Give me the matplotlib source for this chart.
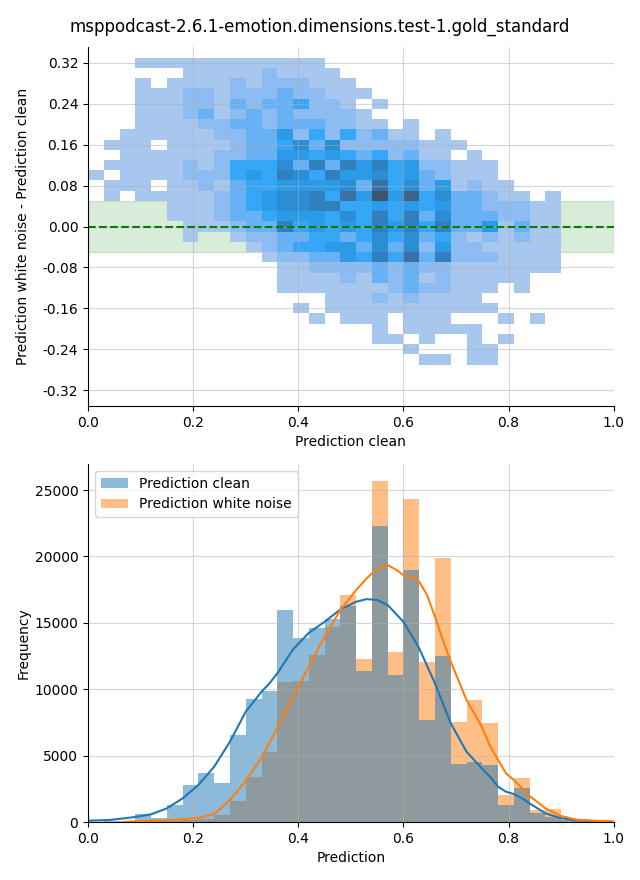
import numpy as np
import matplotlib
matplotlib.use("Agg")
import matplotlib.pyplot as plt
import seaborn as sns
from matplotlib.patches import Patch
from matplotlib.ticker import FixedLocator, FormatStrFormatter

title = "msppodcast-2.6.1-emotion.dimensions.test-1.gold_standard"

# ---- top: 2d histogram, prediction clean vs (white noise - clean) ----
# 30 x-bins (0 .. 0.9) and 30 y-bins (-0.27 .. 0.33)
x_edges = np.linspace(0.0, 0.9, 31)
y_edges = np.linspace(-0.27, 0.33, 31)
diff_ticks = [-0.32, -0.24, -0.16, -0.08, 0.0, 0.08, 0.16, 0.24, 0.32]

# shade, rows from top (y=0.33) to bottom (y=-0.27)
# '.' = empty cell, '1' lightest ... 'X' darkest
cell_rows = [
    "...111111111111...............",
    "......1111121111..............",
    "...1.111121222111.............",
    "...111221222322111............",
    "...11122132334221.1...........",
    "...111231232322221............",
    "...1111223323332211.1.........",
    "..1111112233524242311.1.......",
    ".111.1111233463622222111......",
    "..111111223355454342311.1.....",
    ".1111121244463737574522111....",
    "1.111122245476475564532111....",
    ".111.1121344555563846351211...",
    ".1.111112345667485X594633211.1",
    ".....1112345667744545453322211",
    ".....1112334555464747363332211",
    "......111233745454757473351311",
    "......1..122334434646342121211",
    "..........12344553636252211111",
    "...........1223354748372221111",
    "............112222323221111111",
    "............1111213231211111..",
    "............11111112322111.1..",
    "...............1112121111.....",
    ".............1.11111111111....",
    "..............1.111.111...1.1.",
    "..................1.11111.....",
    "..................11.1..1.1...",
    "....................1...11....",
    ".....................11.11....",
]
level_codes = ".123456789X"
level_share = [0, 2, 12, 22, 32, 42, 52, 63, 75, 87, 100]  # % of busiest cell

# ---- bottom: histograms of both predictions ----
hist_edges = np.linspace(0.0, 0.99, 34)
clean_counts = [30, 60, 100, 580, 330, 1280, 2790, 3690, 2940, 6550, 9260,
                9860, 15960, 13860, 14610, 15290, 16270, 11370, 22290, 11070,
                18980, 7680, 12500, 4370, 4520, 4290, 1280, 2560, 650, 400,
                120, 50, 0]
noise_counts = [0, 0, 10, 20, 40, 80, 130, 220, 530, 1580, 3390, 5270, 10540,
                10620, 12580, 14680, 17090, 12270, 25680, 12800, 24320, 12050,
                19880, 7530, 9190, 7460, 2030, 3310, 900, 950, 180, 80, 60]

# kde curves
kde_clean_x = [0.0, 0.04, 0.063, 0.09, 0.12, 0.15, 0.18, 0.21, 0.24, 0.27,
               0.30, 0.33, 0.345, 0.36, 0.39, 0.42, 0.45, 0.48, 0.51, 0.53,
               0.55, 0.57, 0.60, 0.63, 0.66, 0.69, 0.72, 0.75, 0.765, 0.78,
               0.795, 0.81, 0.825, 0.84, 0.87, 0.90, 0.93, 0.967]
kde_clean_y = [100, 150, 250, 380, 580, 1030, 1780, 2790, 4170, 6050, 8310,
               9810, 10440, 11190, 13000, 14250, 15080, 16010, 16590, 16790,
               16720, 16340, 15080, 13080, 10440, 7430, 5290, 4000, 3400,
               2660, 2280, 2110, 1800, 1400, 655, 280, 130, 60]
kde_noise_x = [0.07, 0.15, 0.21, 0.24, 0.27, 0.30, 0.33, 0.36, 0.39, 0.42,
               0.45, 0.48, 0.51, 0.53, 0.55, 0.57, 0.587, 0.60, 0.62, 0.63,
               0.645, 0.66, 0.675, 0.69, 0.72, 0.75, 0.765, 0.78, 0.795,
               0.81, 0.84, 0.87, 0.90, 0.93, 0.96, 0.998]
kde_noise_y = [20, 125, 300, 600, 1650, 3100, 4850, 7060, 9440, 11700, 13960,
               15960, 17470, 18350, 19100, 19350, 18980, 18600, 18350, 18100,
               17090, 15460, 13700, 12070, 9190, 7100, 5700, 4670, 3670, 3160,
               1960, 1030, 450, 170, 100, 60]

labels = ["Prediction clean", "Prediction white noise"]

fig = plt.figure(figsize=(6.4, 8.8), dpi=100)
ax1 = fig.add_axes([0.1375, 0.5386, 0.8215, 0.408])
ax2 = fig.add_axes([0.1375, 0.0659, 0.8215, 0.4068])
fig.suptitle(title, fontsize=12)

# top panel
x_mid = (x_edges[:-1] + x_edges[1:]) / 2
y_mid = (y_edges[:-1] + y_edges[1:]) / 2
xs, ys, ws = [], [], []
n_rows = len(cell_rows)
for r, row in enumerate(cell_rows):
    yi = n_rows - 1 - r
    for j, ch in enumerate(row[:30]):
        if ch != ".":
            xs.append(x_mid[j])
            ys.append(y_mid[yi])
            ws.append(level_share[level_codes.index(ch)])

ax1.axhspan(-0.05, 0.05, color="green", alpha=0.15, zorder=0)
sns.histplot(x=xs, y=ys, weights=ws, bins=[x_edges, y_edges], ax=ax1)
ax1.axhline(0, color="green", linestyle="--", linewidth=1.5)
ax1.set_xlim(0, 1)
ax1.set_ylim(-0.351, 0.351)
ax1.yaxis.set_major_locator(FixedLocator(diff_ticks))
ax1.yaxis.set_major_formatter(FormatStrFormatter("%.2f"))
ax1.set_xlabel("Prediction clean")
ax1.set_ylabel("Prediction white noise - Prediction clean")
ax1.grid(True, alpha=0.5)

# bottom panel (white noise drawn first, clean on top)
centers = (hist_edges[:-1] + hist_edges[1:]) / 2
ax2.hist(centers, bins=hist_edges, weights=noise_counts, color="C1",
         alpha=0.5, linewidth=0)
ax2.hist(centers, bins=hist_edges, weights=clean_counts, color="C0",
         alpha=0.5, linewidth=0)
ax2.plot(kde_clean_x, kde_clean_y, color="C0", linewidth=1.5)
ax2.plot(kde_noise_x, kde_noise_y, color="C1", linewidth=1.5)
ax2.set_xlim(0, 1)
ax2.set_xlabel("Prediction")
ax2.set_ylabel("Frequency")
ax2.grid(True, alpha=0.5)
handles = [Patch(facecolor="C0", alpha=0.5, label=labels[0]),
           Patch(facecolor="C1", alpha=0.5, label=labels[1])]
ax2.legend(handles=handles, loc="upper left")

for ax in (ax1, ax2):
    ax.spines["top"].set_visible(False)
    ax.spines["right"].set_visible(False)
    ax.yaxis.set_label_coords(-0.11, 0.5)

fig.savefig("out.png", dpi=100)
